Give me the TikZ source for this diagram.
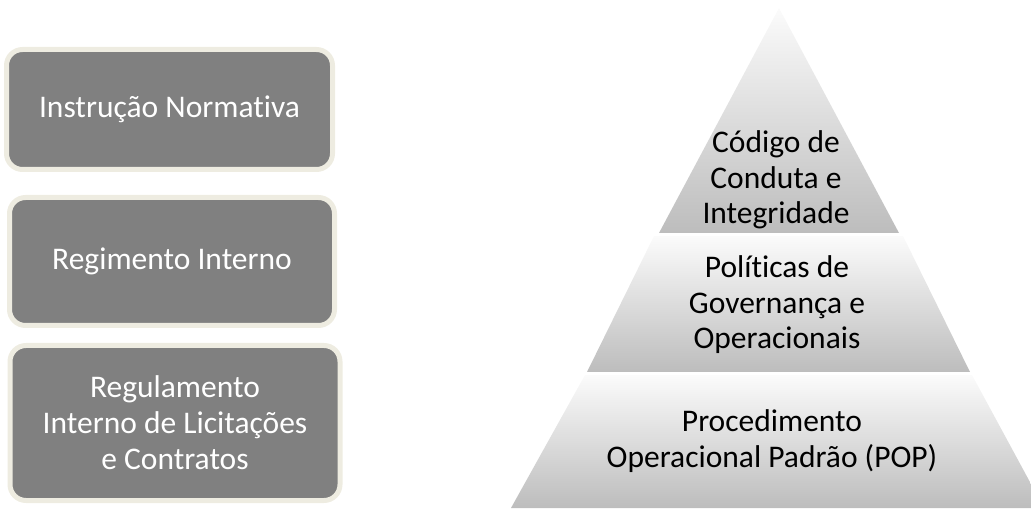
\documentclass[tikz,border=0pt]{standalone}
\usepackage{fontspec}
\setmainfont{Carlito}[Ligatures={NoCommon}]
\definecolor{cream}{HTML}{EEECE1}
\definecolor{boxgray}{HTML}{808080}
\begin{document}
\begin{tikzpicture}[x=1pt,y=-1pt,
  docbox/.style={draw=cream, line width=5pt, fill=boxgray, rounded corners=16pt,
    text=white, align=center, inner sep=0pt, font=\fontsize{31.5}{36}\selectfont},
  tier/.style={draw=none, top color=gray!3, bottom color=gray!52},
  tiertext/.style={align=center, inner sep=0pt, font=\fontsize{31.5}{35.5}\selectfont, text=black}]
\useasboundingbox (0,0) rectangle (1031,510);
% left boxes
\node[docbox, minimum width=326pt, minimum height=120pt] (b1) at (169.5,109.5) {Instrução Normat\kern0pt iva};
\node[docbox, minimum width=325pt, minimum height=128pt] (b2) at (172,261.5) {Regimento Interno};
\node[docbox, minimum width=330pt, minimum height=155pt] (b3) at (175,423) {Regulamento\\Interno de Licitações\\e Contratos};
% pyramid
\begin{scope}
\clip (0,0) rectangle (1031,510);
\path[tier] (779,8) -- (899,233) -- (659,233) -- cycle;
\path[tier] (654,236) -- (903,236) -- (970,372) -- (587,372) -- cycle;
\path[tier] (585,375) -- (972,375) -- (1044,508) -- (511,508) -- cycle;
\end{scope}
\node[tiertext] (t1) at (776,180) {Código de\\Conduta e\\Integridade};
\node[tiertext] (t2) at (777,305) {Polít\kern0pt icas de\\Governança e\\Operacionais};
\node[tiertext] (t3) at (772,441) {Procedimento\\Operacional Padrão (POP)};
\end{tikzpicture}
\end{document}
